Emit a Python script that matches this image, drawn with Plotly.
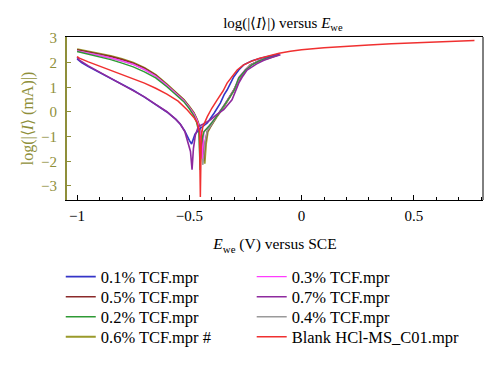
import plotly.graph_objects as go

# ---------------- data ----------------
E_01 = [-1.0, -0.98, -0.95, -0.9, -0.85, -0.8, -0.75, -0.7, -0.65, -0.6, -0.56, -0.54, -0.52, -0.51, -0.5, -0.49,
        -0.475, -0.45, -0.42, -0.39, -0.362, -0.345, -0.332, -0.302, -0.28, -0.258, -0.22, -0.183, -0.14, -0.1]
I_01 = [2.15, 2.0, 1.84, 1.6, 1.36, 1.13, 0.88, 0.6, 0.3, 0.0, -0.3, -0.5, -0.78, -1.0, -1.15, -1.3,
        -0.9, -0.65, -0.45, -0.05, 0.36, 0.7, 0.89, 1.43, 1.7, 1.91, 2.08, 2.18, 2.28, 2.35]

E_03 = [-1.0, -0.95, -0.9, -0.85, -0.8, -0.75, -0.7, -0.65, -0.6, -0.56, -0.525, -0.5, -0.48, -0.466, -0.455,
        -0.448, -0.443, -0.435, -0.41, -0.38, -0.35, -0.32, -0.3, -0.28, -0.25, -0.22, -0.19, -0.15, -0.1]
I_03 = [2.48, 2.39, 2.3, 2.19, 2.07, 1.93, 1.72, 1.45, 1.07, 0.76, 0.46, 0.17, -0.08, -0.35, -0.65,
        -1.05, -1.9, -0.8, -0.55, -0.18, 0.2, 0.62, 0.92, 1.4, 1.72, 1.93, 2.08, 2.2, 2.32]

E_05 = [-1.0, -0.95, -0.9, -0.85, -0.8, -0.75, -0.7, -0.65, -0.6, -0.56, -0.525, -0.5, -0.48, -0.466, -0.455,
        -0.445, -0.437, -0.43, -0.42, -0.406, -0.38, -0.347, -0.32, -0.302, -0.272, -0.25, -0.228, -0.19, -0.153, -0.1]
I_05 = [2.52, 2.44, 2.35, 2.25, 2.13, 1.98, 1.77, 1.49, 1.1, 0.78, 0.49, 0.2, -0.05, -0.32, -0.6,
        -1.0, -2.0, -1.25, -0.78, -0.59, -0.2, 0.22, 0.6, 0.89, 1.43, 1.7, 1.91, 2.07, 2.18, 2.33]

E_07 = [-1.0, -0.99, -0.95, -0.9, -0.85, -0.8, -0.75, -0.7, -0.65, -0.6, -0.56, -0.54, -0.52, -0.51, -0.495, -0.488,
        -0.482, -0.473, -0.46, -0.44, -0.406, -0.38, -0.347, -0.31, -0.295, -0.28, -0.262, -0.243, -0.2, -0.168, -0.13, -0.094]
I_07 = [2.22, 2.1, 1.87, 1.62, 1.38, 1.14, 0.89, 0.61, 0.31, 0.01, -0.3, -0.5, -0.8, -1.13, -1.6, -2.34,
        -1.5, -0.93, -0.59, -0.5, -0.32, -0.12, 0.09, 0.49, 0.8, 1.17, 1.45, 1.7, 1.95, 2.1, 2.22, 2.32]

E_02 = [-1.0, -0.95, -0.9, -0.85, -0.8, -0.75, -0.7, -0.65, -0.6, -0.56, -0.525, -0.5, -0.48, -0.468, -0.458,
        -0.452, -0.448, -0.435, -0.41, -0.38, -0.35, -0.32, -0.3, -0.28, -0.25, -0.22, -0.19, -0.15, -0.1]
I_02 = [2.45, 2.35, 2.24, 2.12, 1.98, 1.83, 1.63, 1.38, 1.02, 0.7, 0.42, 0.13, -0.15, -0.42, -0.8,
        -2.35, -1.3, -0.8, -0.55, -0.2, 0.18, 0.6, 0.9, 1.38, 1.7, 1.92, 2.07, 2.2, 2.33]

E_04 = [-1.0, -0.95, -0.9, -0.85, -0.8, -0.75, -0.7, -0.65, -0.6, -0.56, -0.525, -0.5, -0.48, -0.466, -0.455,
        -0.447, -0.44, -0.43, -0.42, -0.406, -0.38, -0.347, -0.32, -0.3, -0.275, -0.25, -0.225, -0.19, -0.15, -0.1]
I_04 = [2.47, 2.39, 2.3, 2.19, 2.07, 1.93, 1.73, 1.46, 1.08, 0.76, 0.47, 0.18, -0.07, -0.34, -0.62,
        -1.05, -2.15, -1.2, -0.75, -0.58, -0.2, 0.22, 0.6, 0.9, 1.4, 1.7, 1.92, 2.07, 2.19, 2.33]

E_06 = [-1.0, -0.95, -0.9, -0.85, -0.8, -0.75, -0.7, -0.65, -0.6, -0.56, -0.525, -0.5, -0.48, -0.466, -0.455,
        -0.443, -0.432, -0.426, -0.418, -0.406, -0.38, -0.347, -0.32, -0.302, -0.272, -0.25, -0.228, -0.19, -0.153, -0.1]
I_06 = [2.54, 2.46, 2.37, 2.27, 2.15, 2.0, 1.79, 1.51, 1.12, 0.8, 0.5, 0.22, -0.03, -0.3, -0.58,
        -1.0, -2.1, -1.3, -0.8, -0.6, -0.22, 0.2, 0.58, 0.87, 1.4, 1.68, 1.9, 2.06, 2.17, 2.33]

E_blank = [-1.0, -0.99, -0.95, -0.9, -0.85, -0.8, -0.75, -0.7, -0.65, -0.6, -0.55, -0.51, -0.48, -0.466, -0.455,
           -0.451, -0.447, -0.44, -0.42, -0.4, -0.376, -0.35, -0.332, -0.31, -0.287, -0.26, -0.228, -0.19, -0.15,
           -0.1, -0.05, 0.0, 0.1, 0.2, 0.3, 0.4, 0.5, 0.6, 0.7, 0.77]
I_blank = [2.25, 2.18, 2.03, 1.86, 1.69, 1.52, 1.36, 1.17, 0.96, 0.72, 0.44, 0.09, -0.22, -0.42, -0.8,
           -3.45, -1.0, -0.6, -0.19, 0.15, 0.49, 0.85, 1.17, 1.45, 1.7, 1.9, 2.04, 2.17, 2.27,
           2.38, 2.46, 2.52, 2.6, 2.67, 2.72, 2.77, 2.81, 2.85, 2.88, 2.9]

# legend order: column 1 then column 2
names = ["0.1% TCF.mpr", "0.5% TCF.mpr", "0.2% TCF.mpr", "0.6% TCF.mpr #",
         "0.3% TCF.mpr", "0.7% TCF.mpr", "0.4% TCF.mpr", "Blank HCl-MS_C01.mpr"]
xs = [E_01, E_05, E_02, E_06, E_03, E_07, E_04, E_blank]
ys = [I_01, I_05, I_02, I_06, I_03, I_07, I_04, I_blank]
colors = ["#3535c8", "#8b2a2a", "#2e9a35", "#9a9a2a", "#ff3cff", "#8e2a9e", "#9a9a9a", "#f03030"]
widths = [1.6, 1.6, 1.4, 2.0, 1.4, 1.6, 1.4, 1.5]
draw_order = [3, 1, 6, 4, 2, 0, 5, 7]

olive = "#8f8f3a"
serif = "Liberation Serif, Times New Roman, serif"

legend_ids = ["legend"] + ["legend%d" % k for k in range(2, 9)]

fig = go.Figure()
for i in draw_order:
    fig.add_trace(go.Scatter(x=xs[i], y=ys[i], mode="lines", name=names[i],
                             line=dict(color=colors[i], width=widths[i]),
                             legend=legend_ids[i]))

row_y = [-0.472, -0.595, -0.718, -0.840]
col_x = [-0.015, 0.444]
legend_layout = {}
for k, lid in enumerate(legend_ids):
    legend_layout[lid] = dict(x=col_x[k // 4], y=row_y[k % 4], xanchor="left", yanchor="middle",
                              orientation="v",
                              font=dict(family=serif, size=16.5, color="black"),
                              bgcolor="rgba(0,0,0,0)")

fig.update_layout(
    width=492, height=358,
    margin=dict(l=59, r=17, t=29, b=166, autoexpand=False),
    plot_bgcolor="white", paper_bgcolor="white",
    font=dict(family=serif, size=14, color="black"),
    title=dict(text="log(|⟨<i>I</i>⟩|) versus <i>E</i><sub>we</sub>",
               x=0.519, xref="paper", xanchor="center",
               y=0.958, yref="container", yanchor="middle",
               font=dict(family=serif, size=15, color="black")),
    xaxis=dict(range=[-1.045, 0.808], tickvals=[-1, -0.5, 0, 0.5], ticktext=["−1", "−0.5", "0", "0.5"],
               showline=True, linecolor="black", linewidth=1, mirror=True,
               ticks="inside", ticklen=5, tickcolor="black", ticklabelstandoff=2,
               minor=dict(dtick=0.1, tick0=0, ticks="inside", ticklen=3, tickcolor="black"),
               showgrid=False, zeroline=False,
               tickfont=dict(family=serif, size=15, color="black"),
               title=dict(text="<i>E</i><sub>we</sub> (V) versus SCE", standoff=15,
                          font=dict(family=serif, size=15.5, color="black"))),
    yaxis=dict(range=[-3.57, 3.04], tickvals=[-3, -2, -1, 0, 1, 2, 3],
               ticktext=["−3", "−2", "−1", "0", "1", "2", "3"],
               showline=True, linecolor=olive, linewidth=2, mirror=False,
               ticks="inside", ticklen=4, tickcolor=olive, ticklabelstandoff=5,
               showgrid=False, zeroline=False,
               tickfont=dict(family=serif, size=15, color=olive),
               title=dict(text="log(|⟨<i>I</i>⟩ (mA)|)", standoff=3,
                          font=dict(family=serif, size=16, color=olive))),
    showlegend=True,
    **legend_layout,
)
fig.add_shape(type="line", xref="paper", yref="paper", x0=1, x1=1, y0=0, y1=1,
              line=dict(color="black", width=1))

fig.write_html("out.html")
